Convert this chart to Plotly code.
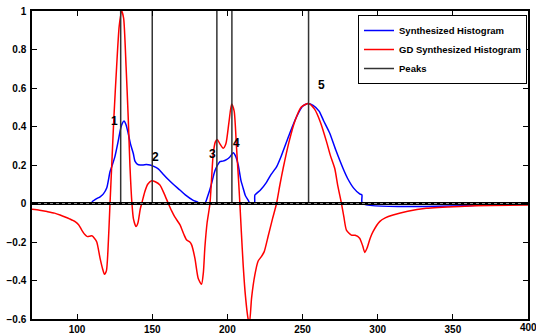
import plotly.graph_objects as go

# Synthesized histogram (blue)
blue_x = [70, 109.5, 110.2, 113, 115.3, 117.5, 119.7, 121.9, 123, 125.2, 127, 129, 130, 131.2, 132.5, 134,
          135.5, 137.4, 138.5, 140, 142, 144, 146, 148.5, 151, 154, 157, 160, 164, 168.4, 172, 177, 180,
          181.7, 185, 187, 189, 191.7, 193.5, 195, 197, 199.4, 201.5, 203.9, 205.5, 207.2, 209, 210.5, 212,
          213.8, 215, 218, 218.3, 222, 226, 229, 232.7, 236, 241.5, 246, 250, 253.7, 257, 261, 264, 268.1,
          272, 276.9, 280, 284, 288, 289.5, 289.8, 400]
blue_y = [0, 0, 0.01, 0.025, 0.035, 0.05, 0.08, 0.165, 0.19, 0.245, 0.31, 0.39, 0.415, 0.428, 0.41, 0.365,
          0.31, 0.26, 0.22, 0.205, 0.2, 0.2, 0.202, 0.2, 0.193, 0.18, 0.155, 0.13, 0.1, 0.07, 0.045, 0.018, 0.008,
          0, 0, 0.04, 0.09, 0.17, 0.2, 0.217, 0.22, 0.228, 0.24, 0.264, 0.245, 0.2, 0.12, 0.079, 0.04,
          0.018, 0, 0, 0.044, 0.07, 0.11, 0.15, 0.19, 0.25, 0.365, 0.45, 0.505, 0.52, 0.51, 0.48, 0.43, 0.365,
          0.28, 0.183, 0.13, 0.08, 0.05, 0.044, 0, 0]

# GD synthesized histogram (red)
red_x = [70, 75, 80, 85, 88.7, 92, 95, 98.7, 101, 103.1, 105, 106.9, 108.5, 109.8, 111.5, 113.1, 115.3, 117,
         118.2, 119.5, 120.5, 121.9, 123, 124.5, 126.3, 128, 129.7, 131, 132.6, 134, 135.2, 136.5, 137.5,
         139.2, 140.5, 142, 143, 145, 147, 149.6, 152, 155.1, 158, 160.7, 163, 165, 168.4, 171, 172.9, 175,
         176.2, 178.4, 180.6, 182.8, 184, 185, 186.5, 188.4, 190.6, 192, 193.2, 195, 197.2, 199, 201, 202.8,
         204.5, 206, 207.2, 208.3, 209.3, 210.5, 212, 213.8, 214.7, 216.1, 218.3, 220.4, 222.6, 224.5, 227.1,
         230, 232.7, 235, 237.1, 241, 245, 249, 254, 258, 262, 266, 268.5, 271.4, 273.5, 275.9, 277.5, 279.2,
         282.5, 285, 288, 290, 291.4, 293, 295, 296.9, 301.3, 305, 310.2, 320, 332.3, 354.5, 375, 400]
red_y = [-0.03, -0.035, -0.042, -0.05, -0.06, -0.07, -0.08, -0.094, -0.11, -0.138, -0.16, -0.172, -0.17, -0.168,
         -0.18, -0.2, -0.285, -0.34, -0.368, -0.35, -0.25, 0, 0.19, 0.45, 0.71, 0.92, 1.0, 0.96, 0.71, 0.45, 0.19,
         0.0, -0.08, -0.12, -0.1, -0.03, 0, 0.06, 0.1, 0.118, 0.113, 0.096, 0.05, 0, -0.04, -0.07, -0.11, -0.16,
         -0.19, -0.2, -0.215, -0.285, -0.39, -0.42, -0.36, -0.23, -0.1, 0, 0.26, 0.32, 0.333, 0.31, 0.287, 0.31,
         0.42, 0.517, 0.48, 0.3, 0.15, 0, -0.15, -0.32, -0.48, -0.6, -0.62, -0.49, -0.37, -0.3, -0.276, -0.25,
         -0.17, -0.08, 0, 0.1, 0.183, 0.32, 0.43, 0.5, 0.52, 0.49, 0.42, 0.32, 0.25, 0.183, 0.09, 0, -0.07, -0.138,
         -0.164, -0.165, -0.18, -0.22, -0.254, -0.23, -0.18, -0.146, -0.094, -0.075, -0.06, -0.04, -0.025, -0.015,
         -0.01, -0.008]

# Peaks
peak_x = [129, 150, 193, 203, 254]
peak_h = [1, 1, 1, 1, 1]
peak_labels = ["1", "2", "3", "4", "5"]
label_x = [125.2, 152.3, 189.9, 206.1, 262.6]
label_y = [0.43, 0.24, 0.257, 0.316, 0.616]

x_ticks = [100, 150, 200, 250, 300, 350, 400]
y_ticks = [-0.6, -0.4, -0.2, 0, 0.2, 0.4, 0.6, 0.8, 1]
y_tick_text = ["\u22120.6", "\u22120.4", "\u22120.2", "0", "0.2", "0.4", "0.6", "0.8", "1"]

FONT = "Liberation Sans, Arial, sans-serif"

fig = go.Figure()
fig.add_trace(go.Scatter(x=blue_x, y=blue_y, mode="lines", name="Synthesized Histogram",
                         line=dict(color="#0000ff", width=1.5, shape="spline", smoothing=0.6)))
fig.add_trace(go.Scatter(x=red_x, y=red_y, mode="lines", name="GD Synthesized Histogram",
                         line=dict(color="#ff0000", width=1.5, shape="spline", smoothing=0.6)))

sx, sy = [], []
for px, ph in zip(peak_x, peak_h):
    sx += [px, px, None]
    sy += [0, ph, None]
fig.add_trace(go.Scatter(x=sx, y=sy, mode="lines", name="Peaks",
                         line=dict(color="#333333", width=1.5)))
# stem baseline
fig.add_trace(go.Scatter(x=[70, 400], y=[0, 0], mode="lines", showlegend=False, hoverinfo="skip",
                         line=dict(color="#000000", width=3)))
fig.add_trace(go.Scatter(x=[70, 400], y=[0, 0], mode="lines", showlegend=False, hoverinfo="skip",
                         line=dict(color="#888888", width=1, dash="dot")))

for t, lx, ly in zip(peak_labels, label_x, label_y):
    fig.add_annotation(x=lx, y=ly, text=t, showarrow=False,
                       font=dict(family=FONT, size=12, color="black", weight="bold"))

# last x tick label sits at the figure edge (plotly would drop it), so place it as an annotation
fig.add_annotation(x=x_ticks[-1], xref="x", y=0, yref="paper", yanchor="top", yshift=-1,
                   text=str(x_ticks[-1]), showarrow=False,
                   font=dict(family=FONT, size=10, color="black", weight="bold"))

axis_common = dict(showline=True, linecolor="black", linewidth=1.5, mirror="ticks", ticks="inside",
                   ticklen=5, tickwidth=1, tickcolor="black", showgrid=False, zeroline=False,
                   automargin=False,
                   tickfont=dict(family=FONT, size=10, color="black", weight="bold"))
fig.update_xaxes(range=[70, 400], tickvals=x_ticks, ticklabelstandoff=0, **axis_common)
fig.update_yaxes(range=[-0.6, 1], tickvals=y_ticks, ticktext=y_tick_text, ticklabelstandoff=2, **axis_common)

fig.update_layout(
    width=536, height=335,
    margin=dict(l=32, r=8, t=11, b=16),
    plot_bgcolor="white", paper_bgcolor="white",
    font=dict(family=FONT, color="black"),
    legend=dict(x=0.998, y=0.987, xanchor="right", yanchor="top", bgcolor="white",
                bordercolor="black", borderwidth=1, itemwidth=30, tracegroupgap=0,
                font=dict(family=FONT, size=9.5, color="black", weight="bold")),
)
fig.write_html("out.html", config={"displayModeBar": False},
               post_script="document.body.style.margin='0';document.body.style.overflow='hidden';")
